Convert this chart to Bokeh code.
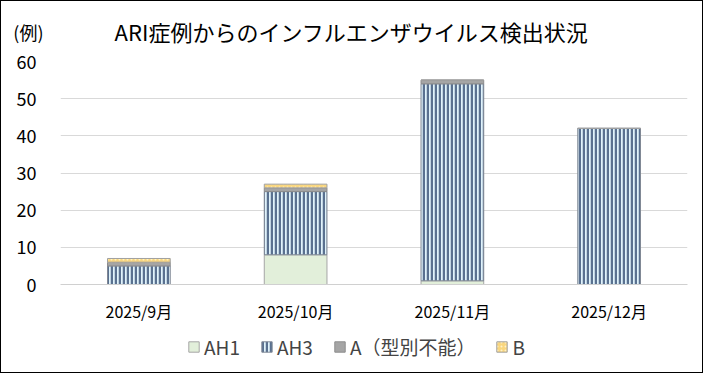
from bokeh.plotting import figure
from bokeh.layouts import column
from bokeh.models import Range1d, FactorRange, Legend, Label, SingleIntervalTicker, FixedTicker
from bokeh.embed import file_html
from bokeh.resources import INLINE

months = ["2025/9月", "2025/10月", "2025/11月", "2025/12月"]
ah1 = [0, 8, 1, 0]
ah3 = [5, 17, 53, 42]
a_untyped = [1, 1, 1, 0]
b = [1, 1, 0, 0]
series_names = ["AH1", "AH3", "A（型別不能）", "B"]
title_text = "ARI症例からのインフルエンザウイルス検出状況"
unit_text = "(例)"

FONT = "Noto Sans CJK JP"
W = 701
H_TOP, H_MAIN, H_LEG = 48, 276, 47

data = dict(month=months, AH1=ah1, AH3=ah3, A=a_untyped, B=b)
stack_style = dict(
    fill_color=["#e2efda", "#e0f3fb", "#a5a5a5", "#f9d67e"],
    line_color=["#a6a6a6", "#7f8794", "#8c8c8c", "#a0a0a0"], line_width=1,
    hatch_pattern=[" ", "|", " ", "."],
    hatch_color=["#e2efda", "#5a7190", "#a5a5a5", "#fff2c8"],
    hatch_scale=[4, 4, 4, 4], hatch_weight=[2.5, 2.5, 1, 1.2])

# title strip (unit text carried by an empty left axis, title as a label)
t = figure(x_range=Range1d(0, 1), y_range=Range1d(0, 1), width=W, height=H_TOP,
           output_backend="svg", toolbar_location=None, x_axis_location=None,
           min_border_left=0, min_border_right=0, min_border_top=12, min_border_bottom=0)
t.outline_line_color = None
t.grid.visible = False
t.yaxis.ticker = FixedTicker(ticks=[])
t.yaxis.axis_line_color = None
t.yaxis.major_tick_line_color = None
t.yaxis.minor_tick_line_color = None
t.yaxis.major_tick_out = 0
t.yaxis.minor_tick_out = 0
t.yaxis.axis_label = unit_text
t.yaxis.axis_label_orientation = "horizontal"
t.yaxis.axis_label_text_font = FONT
t.yaxis.axis_label_text_font_size = "18px"
t.yaxis.axis_label_text_font_style = "normal"
t.yaxis.axis_label_text_color = "#000000"
t.yaxis.axis_label_standoff = 17
t.add_layout(Label(x=291, y=19, x_units="screen", y_units="screen", text=title_text,
                   text_font=FONT, text_font_size="22px", text_align="center",
                   text_baseline="middle", text_color="#000000"))

# main chart
p = figure(x_range=FactorRange(*months, range_padding=0), y_range=Range1d(0, 60),
           width=W, height=H_MAIN, output_backend="svg", toolbar_location=None,
           min_border_left=59, min_border_right=15, min_border_top=12, min_border_bottom=30)
p.vbar_stack(["AH1", "AH3", "A", "B"], x="month", source=data, width=0.4, **stack_style)

p.outline_line_color = None
p.xgrid.grid_line_color = None
p.ygrid.grid_line_color = "#d9d9d9"
p.yaxis.ticker = SingleIntervalTicker(interval=10)
p.yaxis.axis_line_color = None
p.yaxis.major_tick_line_color = None
p.yaxis.minor_tick_line_color = None
p.yaxis.major_label_text_font = FONT
p.yaxis.major_label_text_font_size = "18px"
p.yaxis.major_label_text_color = "#000000"
p.yaxis.major_label_standoff = 18
p.xaxis.axis_line_color = "#d0d0d0"
p.xaxis.major_tick_line_color = None
p.xaxis.minor_tick_line_color = None
p.xaxis.major_label_text_font = FONT
p.xaxis.major_label_text_font_size = "16px"
p.xaxis.major_label_text_color = "#000000"
p.xaxis.major_label_standoff = 8

# legend strip: same stacked series, kept out of its (empty) view
q = figure(x_range=FactorRange(*months), y_range=Range1d(1000, 1001),
           width=W, height=H_LEG, output_backend="svg", toolbar_location=None,
           x_axis_location=None, y_axis_location=None,
           min_border_left=0, min_border_right=0, min_border_top=0, min_border_bottom=0)
q.outline_line_color = None
q.grid.visible = False
rq = q.vbar_stack(["AH1", "AH3", "A", "B"], x="month", source=data, width=0.4, **stack_style)
legend = Legend(items=[(n, [rr]) for n, rr in zip(series_names, rq)], orientation="horizontal",
                location=(127, 12),
                label_text_font=FONT, label_text_font_size="19px", glyph_width=13, glyph_height=13,
                spacing=20, label_standoff=4, border_line_color=None, background_fill_alpha=0,
                padding=2, margin=0)
q.add_layout(legend, "center")

layout = column(t, p, q, spacing=0, styles={"border": "1px solid #000000"})

open("out.html", "w").write(file_html(layout, INLINE))
